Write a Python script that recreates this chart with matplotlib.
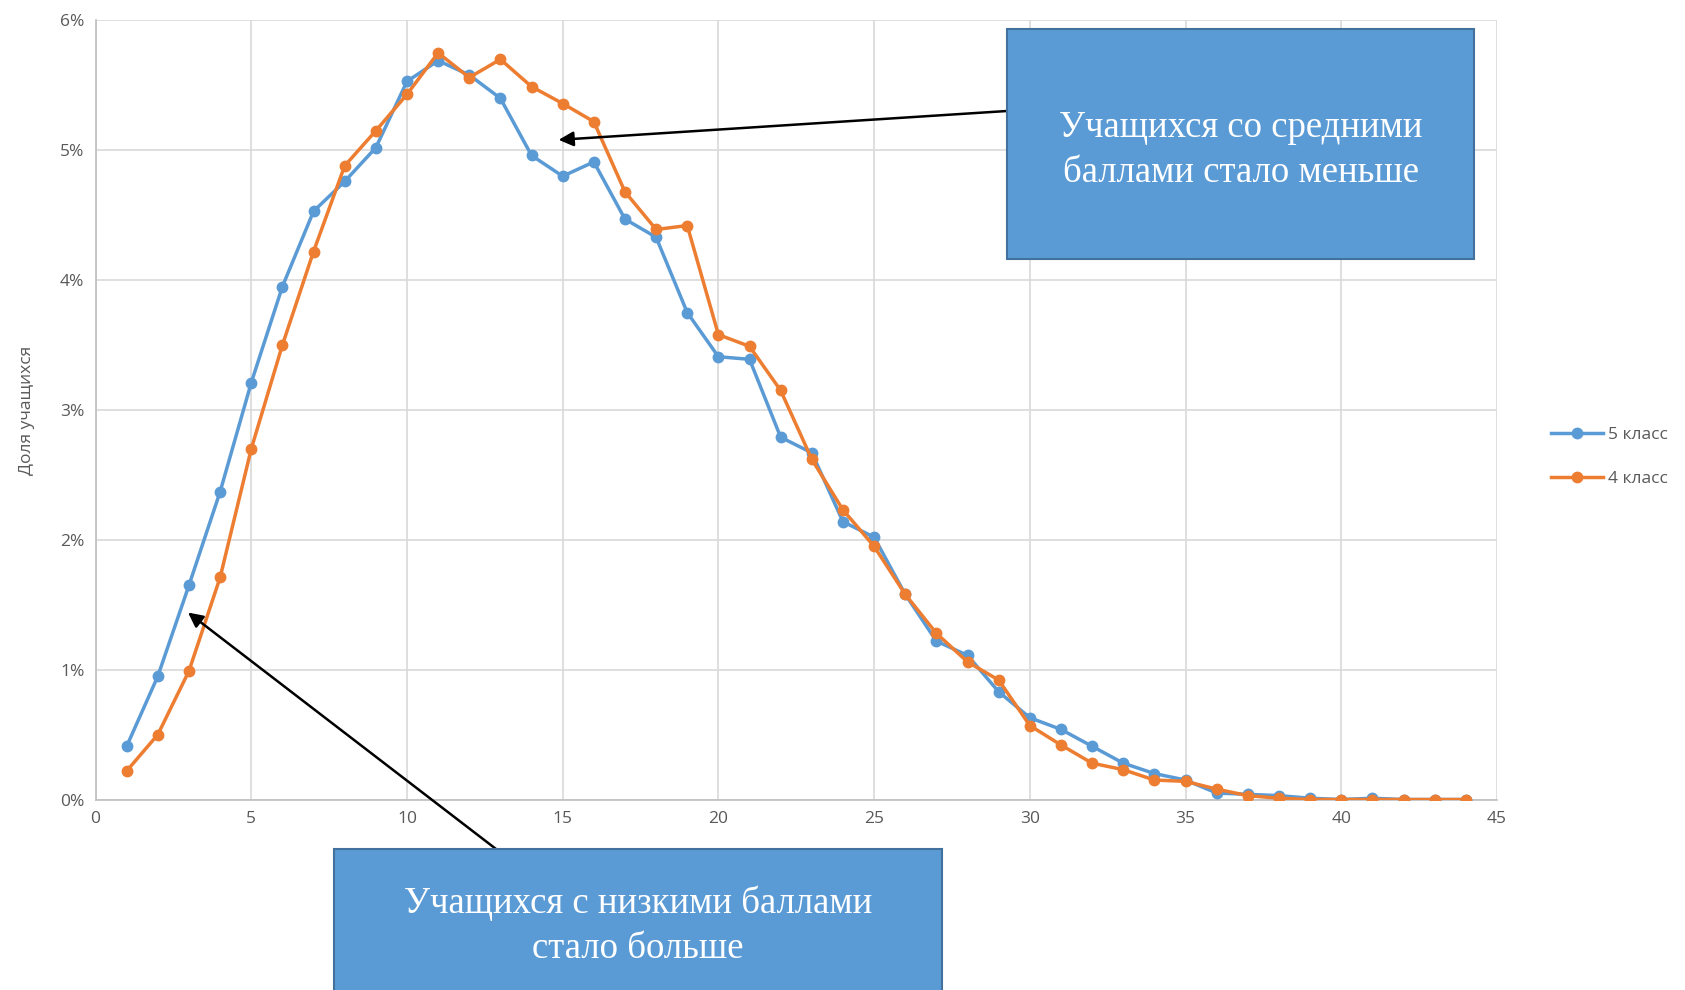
import matplotlib
matplotlib.use("Agg")
import matplotlib.pyplot as plt
from matplotlib.patches import Rectangle
from matplotlib.ticker import PercentFormatter

scores = list(range(1, 45))
grade5 = [0.41, 0.95, 1.65, 2.37, 3.21, 3.95, 4.53, 4.76, 5.02, 5.53,
          5.69, 5.58, 5.40, 4.96, 4.80, 4.91, 4.47, 4.33, 3.75, 3.41,
          3.39, 2.79, 2.67, 2.14, 2.02, 1.58, 1.22, 1.11, 0.83, 0.63,
          0.54, 0.41, 0.28, 0.20, 0.15, 0.05, 0.04, 0.03, 0.01, 0.0,
          0.01, 0.0, 0.0, 0.0]
grade4 = [0.22, 0.50, 0.99, 1.71, 2.70, 3.50, 4.22, 4.88, 5.15, 5.43,
          5.75, 5.56, 5.70, 5.49, 5.36, 5.22, 4.68, 4.39, 4.42, 3.58,
          3.49, 3.15, 2.62, 2.23, 1.95, 1.58, 1.28, 1.06, 0.92, 0.57,
          0.42, 0.28, 0.23, 0.15, 0.14, 0.08, 0.03, 0.01, 0.0, 0.0,
          0.0, 0.0, 0.0, 0.0]
series_labels = ["5 класс", "4 класс"]
y_label = "Доля учащихся"
note_mid = "Учащихся со средними\nбаллами стало меньше"
note_low = "Учащихся с низкими баллами\nстало больше"

blue = "#5B9BD5"
orange = "#ED7D31"
grid_c = "#D9D9D9"
text_c = "#595959"

fig = plt.figure(figsize=(16.85, 9.90), dpi=100)
ax = fig.add_axes([0.0567, 0.1924, 0.8317, 0.787])

ax.plot(scores, grade5, color=blue, lw=2.5, marker="o", ms=7.5, label=series_labels[0], zorder=3)
ax.plot(scores, grade4, color=orange, lw=2.5, marker="o", ms=7.5, label=series_labels[1], zorder=4)

ax.set_xlim(0, 45)
ax.set_ylim(0, 6)
ax.set_xticks(range(0, 46, 5))
ax.set_yticks(range(0, 7))
ax.yaxis.set_major_formatter(PercentFormatter(decimals=0))
ax.grid(True, color=grid_c, lw=1.2)
ax.set_axisbelow(True)
for s in ["top", "right"]:
    ax.spines[s].set_visible(False)
for s in ["left", "bottom"]:
    ax.spines[s].set_color("#BFBFBF")
    ax.spines[s].set_linewidth(1.2)
ax.tick_params(length=0, labelsize=12.5, colors=text_c, pad=8)
for lab in ax.get_xticklabels() + ax.get_yticklabels():
    lab.set_fontfamily("Open Sans")
ax.set_ylabel(y_label, fontsize=12.5, color=text_c, family="Open Sans", labelpad=18)

leg = fig.legend(loc="center left", bbox_to_anchor=(0.911, 0.538), frameon=False,
                 prop={"family": "Open Sans", "size": 12.5}, handlelength=3.0,
                 labelspacing=1.6, handletextpad=0.3)
for t in leg.get_texts():
    t.set_color(text_c)

# annotation boxes (figure fraction)
W, H = 1685, 990
def box(x0, y0, x1, y1, text, ty):
    r = Rectangle((x0 / W, 1 - y1 / H), (x1 - x0) / W, (y1 - y0) / H,
                  transform=fig.transFigure, facecolor=blue, edgecolor="#41719C",
                  lw=1.5, zorder=10, clip_on=False)
    fig.add_artist(r)
    fig.text((x0 + x1) / 2 / W, 1 - ty / H, text, ha="center", va="center",
             color="white", family="Liberation Serif", fontsize=26.5, linespacing=1.38, zorder=11)

box(1007, 29, 1474, 259, note_mid, 150)
box(334, 849, 942, 1010, note_low, 926)

ax.annotate("", xy=(14.87, 5.08), xycoords="data",
            xytext=(1007 / W, 1 - 111 / H), textcoords="figure fraction",
            arrowprops=dict(arrowstyle="-|>", color="black", lw=1.8, mutation_scale=22,
                            shrinkA=0, shrinkB=0), annotation_clip=False, zorder=9)
ax.annotate("", xy=(2.97, 1.44), xycoords="data",
            xytext=(496 / W, 1 - 849 / H), textcoords="figure fraction",
            arrowprops=dict(arrowstyle="-|>", color="black", lw=1.8, mutation_scale=22,
                            shrinkA=0, shrinkB=0), annotation_clip=False, zorder=9)

fig.savefig("out.png", dpi=100)
